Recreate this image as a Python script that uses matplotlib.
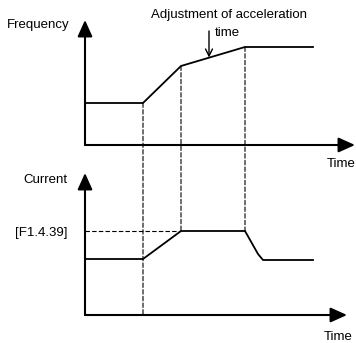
import matplotlib.pyplot as plt
from matplotlib.patches import ConnectionPatch

plt.rcParams['font.family'] = ['Liberation Sans', 'DejaVu Sans']

# time break points (shared by both traces)
t_freq = [0, 58, 96, 160, 228]
freq = [42, 42, 79, 98, 98]

t_cur = [0, 58, 96, 160, 173, 178, 228]
cur = [56, 56, 84, 84, 61, 55, 55]

limit_level = 84          # current limit [F1.4.39]
marks = [58, 96, 160]     # where the dashed guides drop
adjust_t = 124            # arrow for acceleration time adjustment

W, H = 356, 343
fig = plt.figure(figsize=(W / 100, H / 100), dpi=100)

ax1 = fig.add_axes([85 / W, 1 - 145 / H, 271 / W, 125 / H])
ax2 = fig.add_axes([85 / W, 1 - 315 / H, 271 / W, 142 / H])
ax1.set_xlim(0, 271)
ax1.set_ylim(0, 125)
ax2.set_xlim(0, 271)
ax2.set_ylim(0, 142)

arrow = dict(arrowstyle='-|>,head_length=1.0,head_width=0.45', color='black',
             lw=1.5, shrinkA=0, shrinkB=0)

for ax, xend, ytop in [(ax1, 270, 125), (ax2, 262, 142)]:
    ax.axis('off')
    ax.annotate('', xy=(0, ytop), xytext=(0, 0), arrowprops=arrow, annotation_clip=False)
    ax.annotate('', xy=(xend, 0), xytext=(0, 0), arrowprops=arrow, annotation_clip=False)

ax1.plot(t_freq, freq, color='black', lw=1.3, solid_joinstyle='round', clip_on=False)
ax2.plot(t_cur, cur, color='black', lw=1.3, solid_joinstyle='round', clip_on=False)

# dashed guides between the two plots
f_at = dict(zip(t_freq, freq))
c_at = {58: 0, 96: limit_level, 160: limit_level}
for t in marks:
    con = ConnectionPatch(xyA=(t, f_at[t]), coordsA=ax1.transData,
                          xyB=(t, c_at[t]), coordsB=ax2.transData,
                          color='black', lw=0.8, linestyle=(0, (4, 2)))
    fig.add_artist(con)
ax2.plot([0, marks[1]], [limit_level, limit_level], color='black', lw=0.8,
         linestyle=(0, (4, 2)))

ax1.annotate('', xy=(adjust_t, 87.5), xytext=(adjust_t, 114),
             arrowprops=dict(arrowstyle='->,head_length=0.5,head_width=0.25',
                             color='black', lw=1.0, shrinkA=0, shrinkB=0),
             annotation_clip=False)

fs = 9.5
ax1.text(144, 130, 'Adjustment of acceleration', ha='center', va='center', fontsize=fs)
ax1.text(130, 112, 'time', ha='left', va='center', fontsize=fs)
ax1.text(-15, 120, 'Frequency', ha='right', va='center', fontsize=fs)
ax1.text(242, -19, 'Time', ha='left', va='center', fontsize=fs)
ax2.text(-17, 135, 'Current', ha='right', va='center', fontsize=fs)
ax2.text(-18, 82, '[F1.4.39]', ha='right', va='center', fontsize=fs)
ax2.text(239, -22, 'Time', ha='left', va='center', fontsize=fs)

fig.savefig('out.png', dpi=100)
